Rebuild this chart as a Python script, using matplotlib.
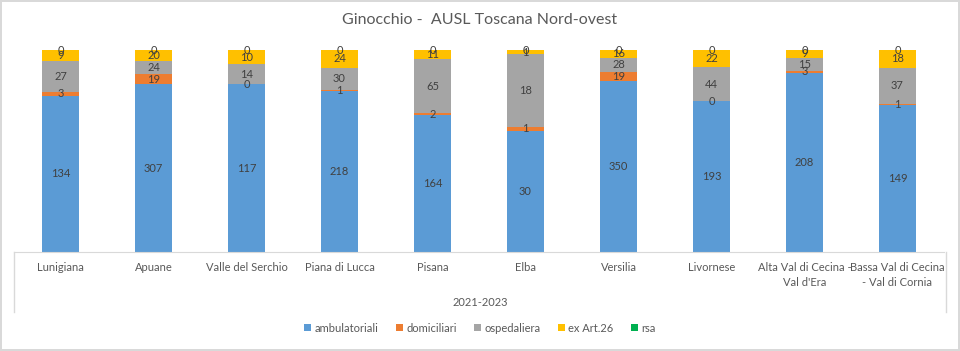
import matplotlib.pyplot as plt
import numpy as np

# data (counts, shown as 100% stacked)
zones = ['Lunigiana', 'Apuane', 'Valle del Serchio', 'Piana di Lucca', 'Pisana',
         'Elba', 'Versilia', 'Livornese', 'Alta Val di Cecina -\nVal d\'Era',
         'Bassa Val di Cecina\n- Val di Cornia']
ambulatoriali = [134, 307, 117, 218, 164, 30, 350, 193, 208, 149]
domiciliari = [3, 19, 0, 1, 2, 1, 19, 0, 3, 1]
ospedaliera = [27, 24, 14, 30, 65, 18, 28, 44, 15, 37]
ex_art26 = [9, 20, 10, 24, 11, 1, 16, 22, 9, 18]
rsa = [0, 0, 0, 0, 0, 0, 0, 0, 0, 0]

series = [('ambulatoriali', ambulatoriali, '#5B9BD5'),
          ('domiciliari', domiciliari, '#ED7D31'),
          ('ospedaliera', ospedaliera, '#A5A5A5'),
          ('ex Art.26', ex_art26, '#FFC000'),
          ('rsa', rsa, '#00B050')]

plt.rcParams['font.family'] = ['Lato', 'DejaVu Sans']

fig = plt.figure(figsize=(9.6, 3.51), dpi=100)
fig.patch.set_edgecolor('#d9d9d9')
fig.patch.set_linewidth(1.5)
ax = fig.add_axes([14 / 960, 1 - 252 / 351, 930 / 960, 202 / 351])

x = np.arange(len(zones))
totals = np.sum([s[1] for s in series], axis=0)
bottom = np.zeros(len(zones))
for name, vals, color in series:
    frac = np.array(vals) / totals
    ax.bar(x, frac, 0.4, bottom=bottom, color=color, label=name)
    for xi, b, f, v in zip(x, bottom, frac, vals):
        ax.text(xi, b + f / 2, str(v), ha='center', va='center',
                fontsize=8, color='#404040')
    bottom += frac

ax.set_xlim(-0.5, 9.5)
ax.set_ylim(0, 1)
ax.set_yticks([])
ax.set_xticks(x)
ax.set_xticklabels(zones, fontsize=8, color='#595959', linespacing=1.5)
ax.tick_params(axis='x', length=0, pad=7)
for sp in ['top', 'left', 'right']:
    ax.spines[sp].set_visible(False)
ax.spines['bottom'].set_color('#d9d9d9')

# multi-level axis frame lines
for xl in [14, 946]:
    fig.add_artist(plt.Line2D([xl / 960, xl / 960], [1 - 252 / 351, 1 - 312 / 351],
                              color='#d9d9d9', lw=1))
fig.text(0.5, 1 - 303 / 351, '2021-2023', ha='center', va='center',
         fontsize=8, color='#595959')

fig.text(0.5, 1 - 20 / 351, 'Ginocchio -  AUSL Toscana Nord-ovest', ha='center',
         va='center', fontsize=11.5, color='#595959')

fig.legend(loc='center', bbox_to_anchor=(0.5, 1 - 328 / 351), ncol=5, frameon=False,
           fontsize=8, handlelength=0.6, handleheight=0.6, handletextpad=0.3,
           columnspacing=1.6, labelcolor='#595959')

fig.savefig('out.png', dpi=100, edgecolor=fig.get_edgecolor())
